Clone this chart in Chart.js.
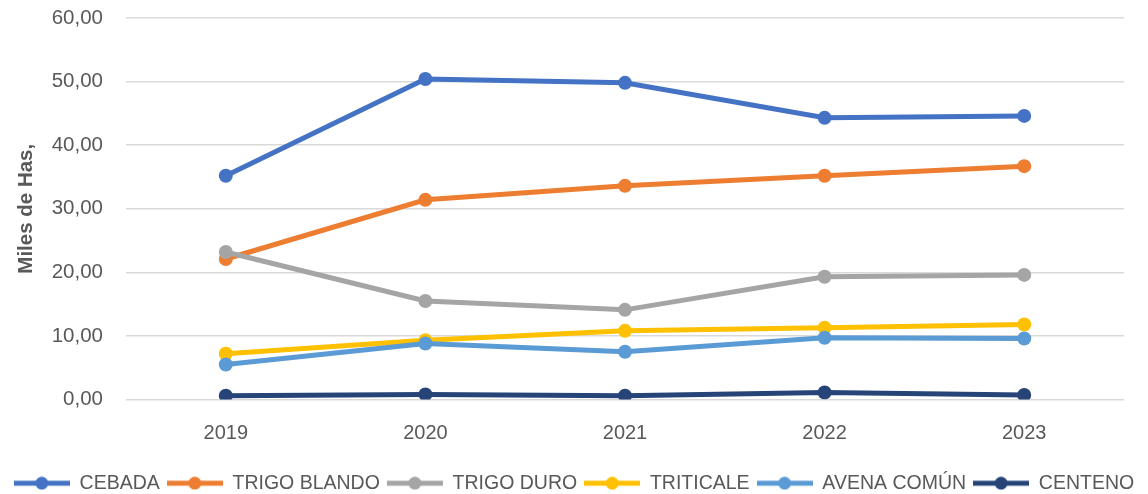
<!DOCTYPE html>
<html>
<head>
<meta charset="utf-8">
<script src="https://cdn.jsdelivr.net/npm/chart.js@4/dist/chart.umd.min.js"></script>
<style>
  html, body { margin: 0; padding: 0; background: #fff; }
  #wrap { width: 1148px; height: 494px; }
</style>
</head>
<body>
<div id="wrap"><canvas id="grafico"></canvas></div>
<script>
const anios = ['2019', '2020', '2021', '2022', '2023'];
const cebada = [35.2, 50.4, 49.8, 44.3, 44.6];
const trigoBlando = [22.1, 31.4, 33.6, 35.2, 36.7];
const trigoDuro = [23.2, 15.5, 14.1, 19.3, 19.6];
const triticale = [7.2, 9.3, 10.8, 11.3, 11.8];
const avenaComun = [5.5, 8.8, 7.5, 9.7, 9.6];
const centeno = [0.6, 0.8, 0.6, 1.1, 0.7];

const nombres = ['CEBADA', 'TRIGO BLANDO', 'TRIGO DURO', 'TRITICALE', 'AVENA COMÚN', 'CENTENO'];
const colores = ['#4472C4', '#ED7D31', '#A5A5A5', '#FFC000', '#5B9BD5', '#264478'];
const series = [cebada, trigoBlando, trigoDuro, triticale, avenaComun, centeno];

const gris = '#595959';
const fuente = 'Liberation Sans';

// little line + dot used as legend marker
function marcador(color) {
  const c = document.createElement('canvas');
  c.width = 56; c.height = 14;
  const ctx = c.getContext('2d');
  ctx.strokeStyle = color;
  ctx.lineWidth = 5;
  ctx.beginPath();
  ctx.moveTo(0, 7);
  ctx.lineTo(56, 7);
  ctx.stroke();
  ctx.fillStyle = color;
  ctx.beginPath();
  ctx.arc(28, 7, 6.5, 0, Math.PI * 2);
  ctx.fill();
  return c;
}

const datasets = series.map((d, i) => ({
  label: nombres[i],
  data: d,
  borderColor: colores[i],
  backgroundColor: colores[i],
  borderWidth: 5,
  pointRadius: 7,
  pointHoverRadius: 7,
  pointBorderWidth: 0,
  order: series.length - i
}));

new Chart(document.getElementById('grafico'), {
  type: 'line',
  data: { labels: anios, datasets: datasets },
  options: {
    responsive: true,
    maintainAspectRatio: false,
    animation: false,
    layout: { padding: { top: 18, right: 0, left: 0, bottom: -9 } },
    plugins: {
      tooltip: { enabled: false },
      legend: {
        position: 'bottom',
        labels: {
          usePointStyle: true,
          pointStyleWidth: 56,
          padding: 7,
          color: gris,
          font: { family: fuente, size: 19.5 },
          generateLabels: (chart) => chart.data.datasets.map((ds, i) => ({
            text: ds.label,
            fillStyle: ds.borderColor,
            strokeStyle: ds.borderColor,
            fontColor: gris,
            lineWidth: 0,
            pointStyle: marcador(ds.borderColor),
            datasetIndex: i,
            hidden: false
          }))
        }
      }
    },
    scales: {
      x: {
        offset: true,
        grid: { display: false, drawTicks: false },
        border: { display: false },
        ticks: { color: gris, padding: 22, font: { family: fuente, size: 20 } },
        afterFit: (s) => { s.height = 67; }
      },
      y: {
        min: 0,
        max: 60,
        grid: { color: '#D9D9D9', lineWidth: 1.5, drawTicks: false },
        border: { display: false },
        ticks: {
          stepSize: 10,
          color: gris,
          padding: 23,
          font: { family: fuente, size: 20.5 },
          callback: (v) => v.toFixed(2).replace('.', ',')
        },
        title: {
          display: true,
          text: 'Miles de Has,',
          color: gris,
          padding: { top: 14, bottom: 0 },
          font: { family: fuente, size: 20.5, weight: 'bold' }
        },
        afterFit: (s) => {
          s.width = 126;
          s.paddingTop = 0;
          s.paddingBottom = 0;
        }
      },
      // empty right axis, only reserves the right margin
      derecha: {
        position: 'right',
        display: true,
        grid: { display: false, drawTicks: false },
        border: { display: false },
        ticks: { display: false },
        afterFit: (s) => { s.width = 24; }
      }
    }
  }
});
</script>
</body>
</html>
